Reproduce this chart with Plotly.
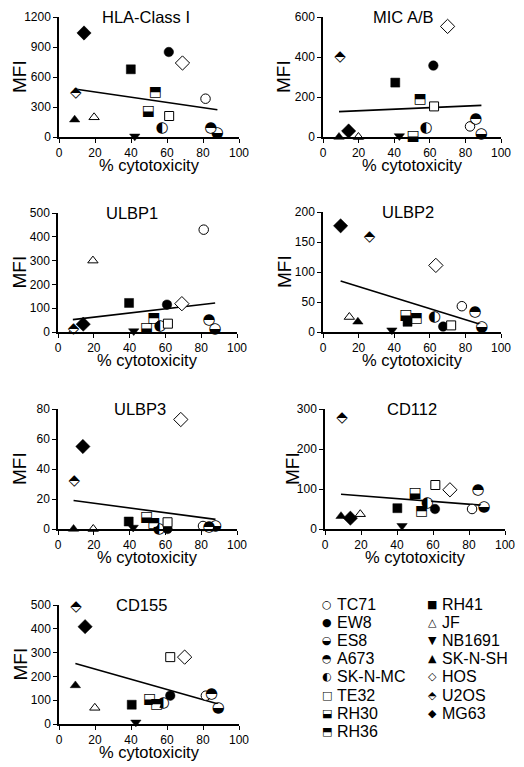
import plotly.graph_objects as go

W, H = 524, 767

cell_lines = ["TC71", "EW8", "ES8", "A673", "SK-N-MC", "TE32", "RH30", "RH36",
              "RH41", "JF", "NB1691", "SK-N-SH", "HOS", "U2OS", "MG63"]

# % cytotoxicity (x) and MFI (y) per panel, ordered as cell_lines
hla_x = [81.4, 61.0, 88.0, 84.4, 57.3, 61.2, 49.7, 53.6, 39.9, 19.5, 42.1, 8.7, 68.6, 9.3, 13.9]
hla_y = [383, 850, 38, 83, 90, 210, 260, 450, 677, 197, 7, 173, 740, 440, 1040]
hla_fit = [480, 273]

mic_x = [82.6, 62.0, 89.0, 85.8, 57.9, 62.4, 50.6, 54.5, 40.6, 19.9, 42.9, 9.0, 70.0, 9.6, 14.4]
mic_y = [53, 357, 13, 88, 42, 153, 3, 190, 272, 0, 5, 0, 553, 397, 30]
mic_fit = [127, 158]

ulbp1_x = [81.4, 60.9, 87.8, 84.4, 57.0, 61.4, 49.5, 53.6, 39.7, 19.5, 42.3, 8.3, 69.2, 8.7, 14.1]
ulbp1_y = [430, 115, 10, 50, 25, 35, 15, 56, 122, 300, 4, 3, 119, 11, 33]
ulbp1_fit = [52, 122]

ulbp2_x = [78.0, 67.5, 89.2, 85.4, 62.6, 72.0, 46.5, 52.5, 47.5, 14.8, 38.7, 19.6, 63.4, 26.2, 9.9]
ulbp2_y = [43, 9, 8, 33, 25, 11, 27, 22, 17, 25, 3, 17, 111, 158, 177]
ulbp2_fit = [85, 12]

ulbp3_x = [81.0, 61.2, 88.0, 84.4, 56.4, 61.2, 49.5, 53.6, 39.5, 19.7, 42.0, 8.7, 68.6, 9.1, 13.9]
ulbp3_y = [2, 0, 2, 1.5, 0, 4.5, 8, 4, 5, 0, 1, 0, 73, 32, 55]
ulbp3_fit = [19, 6.4]

cd112_x = [81.7, 61.1, 88.3, 85.0, 56.9, 61.3, 50.0, 53.7, 40.2, 19.6, 42.8, 8.9, 69.4, 9.4, 14.1]
cd112_y = [50, 50, 54, 97, 65, 110, 88, 43, 52, 37, 8, 32, 98, 278, 27]
cd112_fit = [87, 59]

cd155_x = [81.6, 61.8, 88.5, 84.8, 57.9, 61.8, 50.3, 54.2, 40.4, 19.9, 42.7, 9.1, 69.8, 9.5, 14.5]
cd155_y = [119, 119, 68, 123, 88, 281, 105, 84, 81, 68, 7, 162, 281, 490, 409]
cd155_fit = [254, 84]

x_ticks = [0, 20, 40, 60, 80, 100]

panels = [
    ("HLA-Class I", hla_x, hla_y, hla_fit, 1200, 300),
    ("MIC A/B", mic_x, mic_y, mic_fit, 600, 200),
    ("ULBP1", ulbp1_x, ulbp1_y, ulbp1_fit, 500, 100),
    ("ULBP2", ulbp2_x, ulbp2_y, ulbp2_fit, 200, 50),
    ("ULBP3", ulbp3_x, ulbp3_y, ulbp3_fit, 80, 20),
    ("CD112", cd112_x, cd112_y, cd112_fit, 300, 100),
    ("CD155", cd155_x, cd155_y, cd155_fit, 500, 100),
]

# layout (pixel boxes of the plot areas: left, right, top, bottom) and title centers
boxes = [(59, 239, 17, 137), (323, 501, 17, 137), (58, 237, 213, 332), (323, 501, 212, 332),
         (58, 237, 409, 529), (325, 505, 409, 529), (59, 239, 605, 724)]
title_cx = [146, 403, 132, 408, 140, 412, 141]

# marker styles: ("m", symbol, filled) or ("g", glyph)
styles = {
    "TC71": ("m", "circle", False), "EW8": ("m", "circle", True),
    "ES8": ("g", "\u25D2"), "A673": ("g", "\u25D3"), "SK-N-MC": ("g", "\u25D0"),
    "TE32": ("m", "square", False), "RH30": ("g", "\u2B13"), "RH36": ("g", "\u2B12"),
    "RH41": ("m", "square", True), "JF": ("m", "triangle-up", False),
    "NB1691": ("m", "triangle-down", True), "SK-N-SH": ("m", "triangle-up", True),
    "HOS": ("m", "diamond", False), "U2OS": ("g", "\u2B18"), "MG63": ("m", "diamond", True),
}
legend_glyph = {"TC71": "\u25CB", "EW8": "\u25CF", "TE32": "\u25A1", "RH41": "\u25A0",
                "JF": "\u25B3", "NB1691": "\u25BC", "SK-N-SH": "\u25B2", "HOS": "\u25C7",
                "MG63": "\u25C6"}
msize = {"circle": 9.5, "square": 9, "triangle-up": 9, "triangle-down": 9, "diamond": 11}
gsize = {"ES8": 15, "A673": 15, "SK-N-MC": 15, "RH30": 14, "RH36": 14, "U2OS": 15}

FONT = "Liberation Sans, Arial, sans-serif"
GFONT = "DejaVu Sans"

fig = go.Figure()
layout = dict(width=W, height=H, margin=dict(l=0, r=0, t=0, b=0),
              paper_bgcolor="white", plot_bgcolor="white", showlegend=False,
              font=dict(family=FONT, color="black"))
annotations = []

for i, (title, xs, ys, fit, ymax, dt) in enumerate(panels):
    n = i + 1
    xa = "x" if n == 1 else f"x{n}"
    ya = "y" if n == 1 else f"y{n}"
    l, r, t, b = boxes[i]
    layout["xaxis" if n == 1 else f"xaxis{n}"] = dict(
        domain=[l / W, r / W], anchor=ya, range=[0, 100], tickvals=x_ticks,
        showline=True, linecolor="black", linewidth=1.5, ticks="outside", ticklen=4,
        tickwidth=1.3, tickcolor="black", showgrid=False, zeroline=False,
        tickfont=dict(size=12, family=FONT, color="black"), automargin=False)
    layout["yaxis" if n == 1 else f"yaxis{n}"] = dict(
        domain=[1 - b / H, 1 - t / H], anchor=xa, range=[0, ymax], dtick=dt, tick0=0,
        showline=True, linecolor="black", linewidth=1.5, ticks="outside", ticklen=4,
        tickwidth=1.3, tickcolor="black", showgrid=False, zeroline=False,
        tickfont=dict(size=12, family=FONT, color="black"), automargin=False)
    # regression line
    fig.add_trace(go.Scatter(x=[min(xs), max(xs)], y=fit, mode="lines",
                             line=dict(color="black", width=1.6), xaxis=xa, yaxis=ya,
                             hoverinfo="skip"))
    for j, name in enumerate(cell_lines):
        st = styles[name]
        if st[0] == "m":
            sym, filled = st[1], st[2]
            fig.add_trace(go.Scatter(
                x=[xs[j]], y=[ys[j]], mode="markers", name=name, xaxis=xa, yaxis=ya,
                cliponaxis=False,
                marker=dict(symbol=sym, size=msize[sym],
                            color="black" if filled else "white",
                            line=dict(color="black", width=1 if not filled else 0.5))))
        else:
            fig.add_trace(go.Scatter(
                x=[xs[j]], y=[ys[j]], mode="markers+text", name=name, xaxis=xa, yaxis=ya,
                cliponaxis=False, text=[st[1]], textposition="middle center",
                textfont=dict(family=GFONT, size=gsize[name], color="black"),
                marker=dict(symbol="circle", size=8, color="white", line=dict(width=0))))
    # titles
    annotations.append(dict(text=title, xref="paper", x=title_cx[i] / W, xanchor="center",
                            yref=f"{ya} domain", y=1, yanchor="middle", showarrow=False,
                            font=dict(size=16.5, family=FONT, color="black")))
    annotations.append(dict(text="% cytotoxicity", xref=f"{xa} domain", x=0.5,
                            xanchor="center", yref=f"{ya} domain", y=0, yshift=-28,
                            yanchor="middle", showarrow=False,
                            font=dict(size=16.5, family=FONT, color="black")))
    annotations.append(dict(text="MFI", xref=f"{xa} domain", x=0, xshift=-39 if n != 6 else -33,
                            xanchor="center", yref=f"{ya} domain", y=0.5, yanchor="middle",
                            textangle=-90, showarrow=False,
                            font=dict(size=19, family=FONT, color="black")))

# manual two-column legend
legend_cols = [cell_lines[:8], cell_lines[8:]]
col_glyph_x = [327, 432]
row_y0, row_dy = 604, 18.2
for c, names in enumerate(legend_cols):
    for k, name in enumerate(names):
        st = styles[name]
        g = st[1] if st[0] == "g" else legend_glyph[name]
        yy = 1 - (row_y0 + k * row_dy) / H
        annotations.append(dict(text=g, xref="paper", yref="paper", x=col_glyph_x[c] / W, y=yy,
                                xanchor="center", yanchor="middle", showarrow=False,
                                font=dict(size=11, family=GFONT, color="black")))
        annotations.append(dict(text=name, xref="paper", yref="paper",
                                x=(col_glyph_x[c] + 8) / W, y=yy,
                                xanchor="left", yanchor="middle", showarrow=False,
                                font=dict(size=16, family=FONT, color="black")))

layout["annotations"] = annotations
fig.update_layout(**layout)
fig.write_html("out.html", config={"displayModeBar": False},
               post_script="document.body.style.margin='0';document.body.style.overflow='hidden';")
